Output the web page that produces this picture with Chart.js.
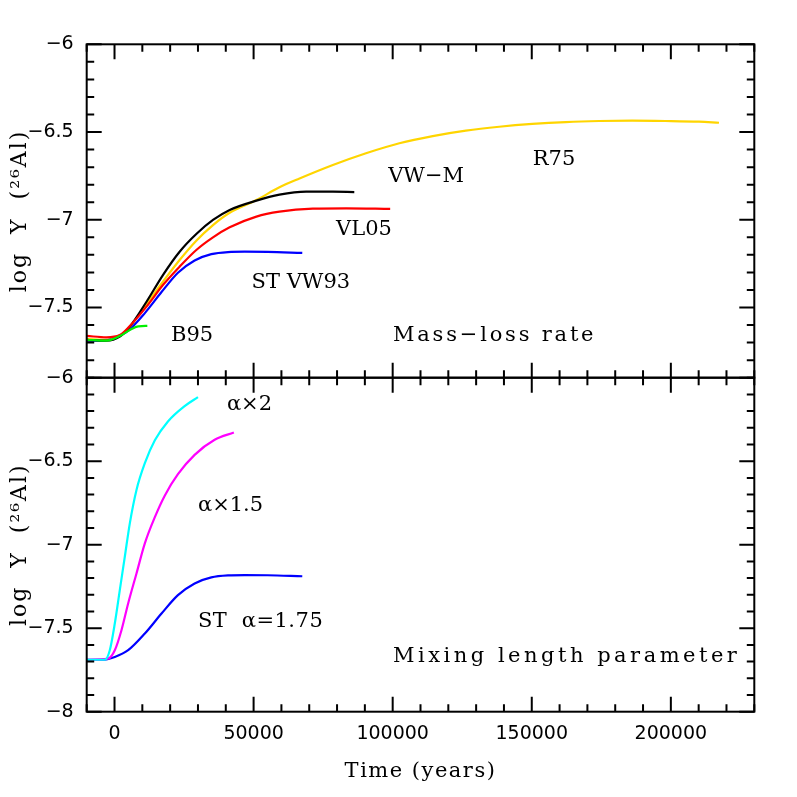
<!DOCTYPE html>
<html>
<head>
<meta charset="utf-8">
<script src="https://cdn.jsdelivr.net/npm/chart.js@4.4.1/dist/chart.umd.min.js"></script>
<style>
  html, body { margin: 0; padding: 0; background: #fff; }
  #wrap { position: relative; width: 797px; height: 797px; }
  #wrap canvas { position: absolute; left: 0; top: 0; }
</style>
</head>
<body>
<div id="wrap">
  <canvas id="massLoss" width="797" height="797"></canvas>
  <canvas id="mixing" width="797" height="797"></canvas>
</div>
<script>
// time axis (years) and log Y(26Al)

// top panel: mass-loss prescriptions
const tVWM = [-10000, -2900, 1900, 5500, 11500, 17400, 23400, 29400, 35400, 41400, 51000, 59300, 68900, 78500, 86200];
const yVWM = [-7.684, -7.689, -7.666, -7.609, -7.467, -7.315, -7.182, -7.081, -7.001, -6.944, -6.891, -6.857, -6.840, -6.840, -6.842];

const tR75 = [-10000, -2900, 1900, 5500, 11500, 17400, 23400, 29400, 35400, 41400, 51000, 59300, 66500, 78500, 90400, 102400, 114400, 126300, 138300, 150200, 162200, 174200, 186100, 198100, 210100, 217300];
const yR75 = [-7.678, -7.685, -7.662, -7.609, -7.480, -7.353, -7.229, -7.119, -7.030, -6.960, -6.887, -6.815, -6.765, -6.688, -6.621, -6.564, -6.523, -6.492, -6.470, -6.454, -6.443, -6.437, -6.435, -6.437, -6.441, -6.447];

const tVL05 = [-10000, -2900, 1900, 5500, 11500, 17400, 23400, 29400, 35400, 41400, 51000, 59300, 71300, 83300, 99100];
const yVL05 = [-7.662, -7.670, -7.657, -7.605, -7.495, -7.372, -7.267, -7.172, -7.100, -7.043, -6.982, -6.954, -6.937, -6.935, -6.938];

const tB95 = [-10000, -2900, 1900, 5500, 8500, 11800];
const yB95 = [-7.684, -7.689, -7.663, -7.628, -7.607, -7.605];

// standard model (VW93, alpha = 1.75), shown in both panels
const tST = [-10000, -4700, 100, 4900, 10900, 16900, 22800, 28800, 34800, 40800, 46800, 55000, 67500];
const yST = [-7.689, -7.689, -7.672, -7.632, -7.532, -7.412, -7.302, -7.232, -7.196, -7.184, -7.182, -7.183, -7.189];

// bottom panel: mixing length parameter
const tAlpha2 = [-10000, -3500, -1700, 100, 1900, 3700, 5500, 7900, 10900, 14500, 19200, 25200, 30000];
const yAlpha2 = [-7.689, -7.689, -7.632, -7.472, -7.272, -7.072, -6.872, -6.672, -6.512, -6.375, -6.262, -6.170, -6.116];

const tAlpha15 = [-10000, -2300, 100, 2500, 4900, 7900, 10900, 14500, 18100, 22800, 28800, 36000, 42900];
const yAlpha15 = [-7.689, -7.682, -7.632, -7.512, -7.352, -7.172, -6.992, -6.835, -6.705, -6.578, -6.462, -6.372, -6.328];

const xMin = -10000;
const xMax = 230000;
const xTicks = [0, 50000, 100000, 150000, 200000];

const pts = (xs, ys) => xs.map((t, i) => ({ x: t, y: ys[i] }));

const line = (xs, ys, color) => ({
  data: pts(xs, ys),
  borderColor: color,
  borderWidth: 2.2,
  pointRadius: 0,
  fill: false,
  cubicInterpolationMode: 'monotone',
});

const SERIF = '"DejaVu Serif", serif';

// frame with inward ticks on all four sides, plus axis titles and curve labels
const panelDecor = {
  id: 'panelDecor',
  afterDatasetsDraw(chart, args, opts) {
    const { ctx, chartArea: a } = chart;
    const x = chart.scales.x;
    const y = chart.scales.y;
    ctx.save();
    ctx.strokeStyle = '#000';
    ctx.lineWidth = 2;
    ctx.strokeRect(a.left, a.top, a.right - a.left, a.bottom - a.top);
    ctx.beginPath();
    for (let k = Math.ceil(x.min / 10000); k * 10000 <= x.max; k++) {
      const px = x.getPixelForValue(k * 10000);
      const len = k % 5 === 0 ? 15 : 7.5;
      ctx.moveTo(px, a.top); ctx.lineTo(px, a.top + len);
      ctx.moveTo(px, a.bottom); ctx.lineTo(px, a.bottom - len);
    }
    for (let k = Math.round(y.min * 10); k <= Math.round(y.max * 10); k++) {
      const py = y.getPixelForValue(k / 10);
      const len = k % 5 === 0 ? 15 : 7.5;
      ctx.moveTo(a.left, py); ctx.lineTo(a.left + len, py);
      ctx.moveTo(a.right, py); ctx.lineTo(a.right - len, py);
    }
    ctx.stroke();

    ctx.fillStyle = '#000';
    ctx.textBaseline = 'middle';
    ctx.font = '21px ' + SERIF;
    for (const n of opts.notes) {
      ctx.letterSpacing = (n.spacing || 0) + 'px';
      ctx.textAlign = n.align || 'center';
      ctx.fillText(n.text, x.getPixelForValue(n.x), y.getPixelForValue(n.y));
    }

    ctx.save();
    ctx.font = '22px ' + SERIF;
    ctx.letterSpacing = '2px';
    ctx.textAlign = 'center';
    ctx.translate(20, (a.top + a.bottom) / 2);
    ctx.rotate(-Math.PI / 2);
    ctx.fillText('log  Y  (\u00b2\u2076Al)', 0, 0);
    ctx.restore();

    if (opts.xTitle) {
      ctx.font = '21px ' + SERIF;
      ctx.letterSpacing = '1.5px';
      ctx.textAlign = 'center';
      ctx.fillText(opts.xTitle, (a.left + a.right) / 2, 772);
    }
    ctx.restore();
  },
};

function yScale(min, max) {
  return {
    type: 'linear',
    min,
    max,
    grid: { display: false, drawTicks: false },
    border: { display: false },
    ticks: {
      stepSize: 0.5,
      includeBounds: false,
      padding: 13,
      color: '#000',
      font: { family: 'DejaVu Sans', size: 19 },
      callback: (v) => String(v).replace('-', '\u2212'),
    },
    afterFit: (s) => { s.width = 86.7; },
  };
}

new Chart(document.getElementById('massLoss'), {
  type: 'line',
  data: {
    datasets: [
      line(tB95, yB95, '#00f000'),
      line(tVL05, yVL05, '#ff0000'),
      line(tVWM, yVWM, '#000000'),
      line(tR75, yR75, '#ffd500'),
      line(tST, yST, '#0000ff'),
    ],
  },
  options: {
    responsive: false,
    animation: false,
    layout: { padding: { left: 0, right: 42.7, top: 44.3, bottom: 419.3 } },
    plugins: {
      legend: { display: false },
      tooltip: { enabled: false },
      panelDecor: {
        notes: [
          { text: 'R75', x: 158000, y: -6.659 },
          { text: 'VW\u2212M', x: 112000, y: -6.756 },
          { text: 'VL05', x: 89700, y: -7.058 },
          { text: 'ST VW93', x: 67000, y: -7.36 },
          { text: 'B95', x: 27900, y: -7.657 },
          { text: 'Mass\u2212loss rate', x: 100100, y: -7.66, align: 'left', spacing: 2.8 },
        ],
      },
    },
    scales: {
      x: { type: 'linear', min: xMin, max: xMax, display: false },
      y: yScale(-7.9, -6),
    },
  },
  plugins: [panelDecor],
});

new Chart(document.getElementById('mixing'), {
  type: 'line',
  data: {
    datasets: [
      line(tAlpha2, yAlpha2, '#00ffff'),
      line(tAlpha15, yAlpha15, '#ff00ff'),
      line(tST, yST, '#0000ff'),
    ],
  },
  options: {
    responsive: false,
    animation: false,
    layout: { padding: { left: 0, right: 42.7, top: 377.7, bottom: 0 } },
    plugins: {
      legend: { display: false },
      tooltip: { enabled: false },
      panelDecor: {
        xTitle: 'Time (years)',
        notes: [
          { text: '\u03b1\u00d72', x: 40400, y: -6.163, align: 'left' },
          { text: '\u03b1\u00d71.5', x: 30000, y: -6.768, align: 'left' },
          { text: 'ST  \u03b1=1.75', x: 30000, y: -7.463, align: 'left', spacing: 0.5 },
          { text: 'Mixing length parameter', x: 100100, y: -7.667, align: 'left', spacing: 3.5 },
        ],
      },
    },
    scales: {
      x: {
        type: 'linear',
        min: xMin,
        max: xMax,
        grid: { display: false, drawTicks: false },
        border: { display: false },
        afterBuildTicks: (s) => { s.ticks = xTicks.map((v) => ({ value: v })); },
        ticks: {
          padding: 11,
          maxRotation: 0,
          color: '#000',
          font: { family: 'DejaVu Sans', size: 19 },
          callback: (v) => String(v),
        },
        afterFit: (s) => { s.height = 85.3; },
      },
      y: yScale(-8, -6),
    },
  },
  plugins: [panelDecor],
});
</script>
</body>
</html>
